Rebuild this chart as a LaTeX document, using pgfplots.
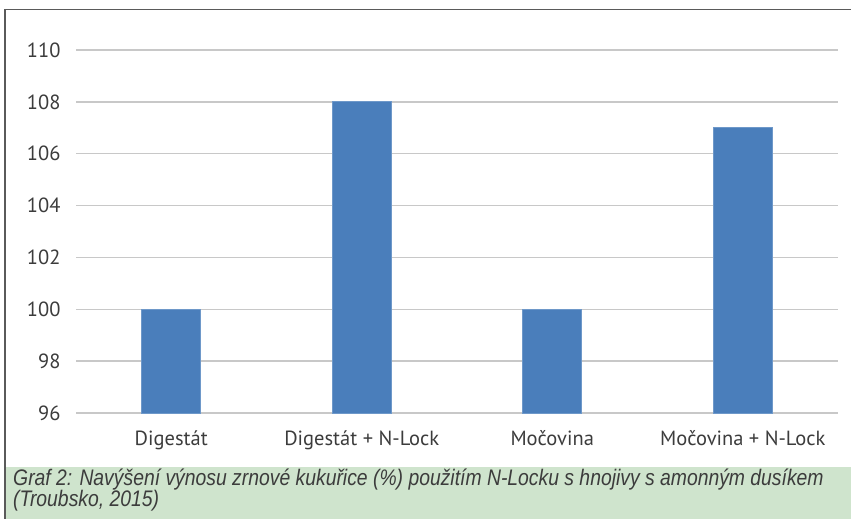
\documentclass[border=0pt]{standalone}
\usepackage{pgfplots}
\pgfplotsset{compat=1.18}
\usepackage{fontspec}
\setmainfont{PT Sans}
\newfontfamily\capfont[FakeStretch=0.86]{Liberation Sans}
\definecolor{barblue}{HTML}{4A7EBB}
\definecolor{capbg}{HTML}{CFE4CD}
\definecolor{gridgray}{HTML}{C8C8C8}
\definecolor{txt}{HTML}{3C3C3C}
\definecolor{framegray}{HTML}{5A5A5A}
\begin{document}
\begin{tikzpicture}[x=1pt,y=1pt]
\path[use as bounding box] (0,0) rectangle (851,519);
\fill[capbg] (5.5,0) rectangle (851,52);
\draw[framegray, line width=1.6pt] (5,0) -- (5,509.5) -- (851,509.5);
\begin{axis}[
  at={(76pt,106pt)}, anchor=south west,
  scale only axis, width=762pt, height=363pt,
  xmin=-0.5, xmax=3.5, ymin=96, ymax=110,
  ytick={96,98,...,110},
  xtick={0,1,2,3},
  xticklabels={Digestát, Digestát + N-Lock, Močovina, Močovina + N-Lock},
  axis line style={draw=none},
  major tick length=0pt,
  ymajorgrids, grid style={gridgray, line width=1.5pt},
  ybar, bar width=59pt,
  tick label style={font=\fontsize{20.5}{24}\selectfont, text=txt},
  y tick label style={xshift=-12pt},
  x tick label style={yshift=-14pt},
  /pgf/number format/assume math mode=true,
  clip=false,
]
\addplot[fill=barblue, draw=barblue!80!white, line width=0.8pt] coordinates {(0,100) (1,108) (2,100) (3,107)};
\end{axis}
\node[anchor=base west, inner sep=0pt, text=txt] at (13,33.5) {\capfont\itshape\fontsize{22.5}{26}\selectfont Graf 2: Navýšení výnosu zrnové kukuřice (\%) použitím N-Locku s hnojivy s amonným dusíkem};
\node[anchor=base west, inner sep=0pt, text=txt] at (13,12.5) {\capfont\itshape\fontsize{22.5}{26}\selectfont (Troubsko, 2015)};
\end{tikzpicture}
\end{document}
